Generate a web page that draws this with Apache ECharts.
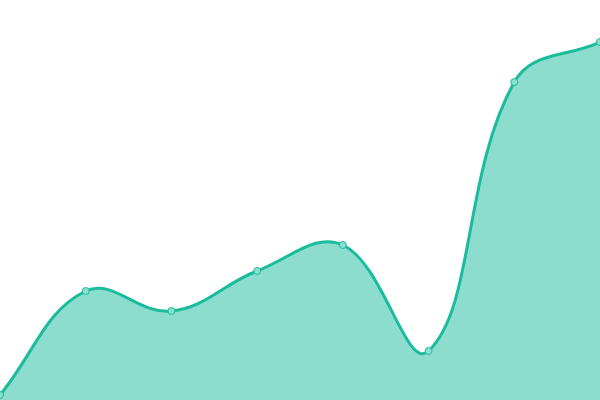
<!DOCTYPE html>
<html>
<head>
<meta charset="utf-8">
<script src="https://cdn.jsdelivr.net/npm/echarts@6/dist/echarts.min.js"></script>
<style>html,body{margin:0;padding:0;background:#fff}#c{width:600px;height:400px}</style>
</head>
<body>
<div id="c"></div>
<script>
const categories = ['1', '2', '3', '4', '5', '6', '7', '8'];
const values = [5, 109, 89, 129, 155, 49, 318, 358];

const LINE = '#1abc9c';
const FILL = 'rgba(26,188,156,0.5)';
const POINT_FILL = '#8ddecd';
const TENSION = 0.4;

function renderCurve(params, api) {
  if (params.dataIndexInside !== 0) return null;
  const n = params.dataInsideLength;
  const pts = [];
  for (let i = 0; i < n; i++) {
    pts.push(api.coord([api.value(0, i), api.value(1, i)]));
  }
  const base = api.coord([api.value(0, 0), 0])[1];
  const cps = pts.map((p, i) => {
    const prev = pts[Math.max(0, i - 1)];
    const next = pts[Math.min(n - 1, i + 1)];
    const d01 = Math.hypot(p[0] - prev[0], p[1] - prev[1]);
    const d12 = Math.hypot(next[0] - p[0], next[1] - p[1]);
    let s01 = d01 / (d01 + d12);
    let s12 = d12 / (d01 + d12);
    if (!isFinite(s01)) s01 = 0;
    if (!isFinite(s12)) s12 = 0;
    const fa = TENSION * s01, fb = TENSION * s12;
    return {
      prev: [p[0] - fa * (next[0] - prev[0]), p[1] - fa * (next[1] - prev[1])],
      next: [p[0] + fb * (next[0] - prev[0]), p[1] + fb * (next[1] - prev[1])]
    };
  });
  let d = 'M' + pts[0][0] + ' ' + pts[0][1];
  for (let i = 1; i < n; i++) {
    const a = cps[i - 1].next, b = cps[i].prev, p = pts[i];
    d += ' C' + a[0] + ' ' + a[1] + ' ' + b[0] + ' ' + b[1] + ' ' + p[0] + ' ' + p[1];
  }
  const area = d + ' L' + pts[n - 1][0] + ' ' + base + ' L' + pts[0][0] + ' ' + base + ' Z';
  return {
    type: 'group',
    children: [
      {type: 'path', shape: {pathData: area}, style: {fill: FILL, stroke: null}},
      {type: 'path', shape: {pathData: d}, style: {fill: null, stroke: LINE, lineWidth: 3, lineJoin: 'round'}}
    ]
  };
}

const chart = echarts.init(document.getElementById('c'), null, {renderer: 'canvas'});
chart.setOption({
  animation: false,
  grid: {left: 0, right: 0, top: 0, bottom: 0},
  xAxis: {type: 'category', data: categories, boundaryGap: false, show: false},
  yAxis: {type: 'value', min: 0, max: 400, show: false},
  series: [
    {
      type: 'custom',
      data: values.map((v, i) => [i, v]),
      renderItem: renderCurve,
      clip: false,
      z: 1
    },
    {
      type: 'scatter',
      data: values.map((v, i) => [i, v]),
      symbol: 'circle',
      symbolSize: 7,
      itemStyle: {color: POINT_FILL, borderColor: LINE, borderWidth: 1, opacity: 1},
      z: 2
    }
  ]
});
</script>
</body>
</html>
